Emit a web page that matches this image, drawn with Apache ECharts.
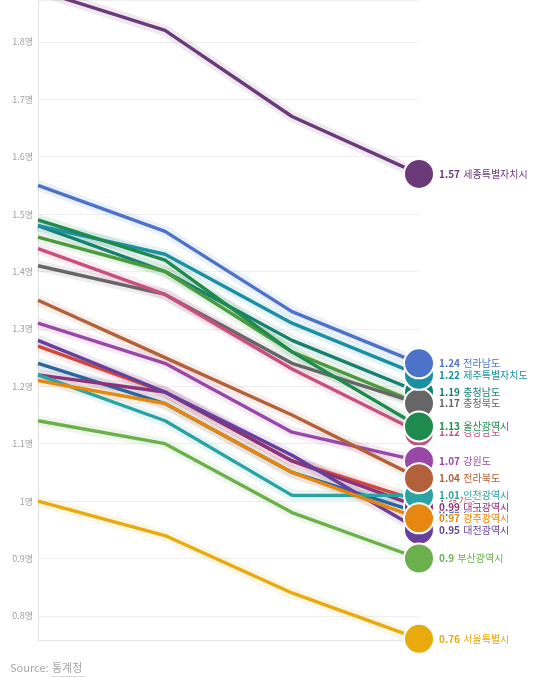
<!DOCTYPE html>
<html>
<head>
<meta charset="utf-8">
<script src="https://cdn.jsdelivr.net/npm/echarts@6/dist/echarts.min.js"></script>
<style>
html,body{margin:0;padding:0;background:#fff;}
#c{width:560px;height:677px;}
</style>
</head>
<body>
<div id="c"></div>
<script>
// Categories (years)
const years = ['2015', '2016', '2017', '2018'];

// Series values (total fertility rate, persons)
const chungnam = [1.48, 1.40, 1.28, 1.19];
const gyeongbuk = [1.46, 1.40, 1.26, 1.17];
const chungbuk = [1.41, 1.36, 1.24, 1.17];
const jeju = [1.48, 1.43, 1.31, 1.22];
const jeonnam = [1.55, 1.47, 1.33, 1.24];
const gyeongnam = [1.44, 1.36, 1.23, 1.12];
const ulsan = [1.49, 1.42, 1.26, 1.13];
const gangwon = [1.31, 1.24, 1.12, 1.07];
const national = [1.24, 1.17, 1.05, 0.98];
const gyeonggi = [1.27, 1.19, 1.07, 1.00];
const daegu = [1.22, 1.19, 1.07, 0.99];
const daejeon = [1.28, 1.19, 1.08, 0.95];
const incheon = [1.22, 1.14, 1.01, 1.01];
const jeonbuk = [1.35, 1.25, 1.15, 1.04];
const gwangju = [1.21, 1.17, 1.05, 0.97];
const busan = [1.14, 1.10, 0.98, 0.90];
const seoul = [1.00, 0.94, 0.84, 0.76];
const sejong = [1.89, 1.82, 1.67, 1.57];

// Region names (drawing order, bottom to top)
const regionNames = ['충청남도', '경상북도', '충청북도', '제주특별자치도', '전라남도', '경상남도', '울산광역시', '강원도', '전국', '경기도', '대구광역시', '대전광역시', '인천광역시', '전라북도', '광주광역시', '부산광역시', '서울특별시', '세종특별자치시'];
const regionValues = [chungnam, gyeongbuk, chungbuk, jeju, jeonnam, gyeongnam, ulsan, gangwon, national, gyeonggi, daegu, daejeon, incheon, jeonbuk, gwangju, busan, seoul, sejong];

// Y-axis tick labels
const yTicks = [0.8, 0.9, 1.0, 1.1, 1.2, 1.3, 1.4, 1.5, 1.6, 1.7, 1.8];

// Styles
const palette = ['#17806e', '#4b9a3e', '#666666', '#1d8fa5', '#4d73c9', '#c8507e', '#1f8a4d', '#9a48a8', '#2b679c', '#d04a3c', '#8a347c', '#673f9c', '#2aa3a3', '#b2613a', '#e8870f', '#6cb04c', '#e8aa0c', '#6b3b79'];

const FONT = '"Noto Sans CJK KR", "Noto Sans", sans-serif';

// Glow bands (drawn beneath all lines)
const halos = regionNames.map((name, i) => ({
  name: name + '_halo',
  type: 'line',
  data: regionValues[i],
  z: 1,
  clip: true,
  silent: true,
  showSymbol: false,
  symbol: 'none',
  lineStyle: { color: palette[i], width: 11, opacity: 0.11, cap: 'butt', join: 'round' },
  emphasis: { disabled: true }
}));

const series = regionNames.map((name, i) => {
  const color = palette[i];
  const data = regionValues[i];
  const last = data[data.length - 1];
  return {
    name: name,
    type: 'line',
    data: data,
    z: 3 + i,
    clip: true,
    silent: true,
    showSymbol: true,
    symbol: 'circle',
    symbolSize: (v, p) => (p.dataIndex === data.length - 1 ? 30 : 0),
    color: color,
    itemStyle: { color: color, borderColor: '#fff', borderWidth: 2 },
    lineStyle: { color: color, width: 3.4, join: 'round' },
    emphasis: { disabled: true },
    endLabel: {
      show: true,
      distance: 20,
      formatter: () => `{v|${last}} {n|${name}}`,
      textBorderColor: '#fff',
      textBorderWidth: 2,
      rich: {
        v: { fontFamily: FONT, fontSize: 10, fontWeight: 'bold', color: color },
        n: { fontFamily: FONT, fontSize: 10, color: color }
      }
    }
  };
});

const chart = echarts.init(document.getElementById('c'), null, { renderer: 'canvas' });
chart.setOption({
  animation: false,
  backgroundColor: '#fff',
  grid: { left: 38, right: 141, top: 0, bottom: 37, containLabel: false },
  xAxis: {
    type: 'category',
    data: years,
    boundaryGap: false,
    axisLine: { show: true, lineStyle: { color: '#e6e6e6', width: 1 } },
    axisTick: { show: false },
    axisLabel: { show: false },
    splitLine: { show: false }
  },
  yAxis: {
    type: 'value',
    min: 0.758,
    max: 1.873,
    splitNumber: 11,
    axisLine: { show: true, lineStyle: { color: '#e3e3e3', width: 1 } },
    axisTick: { show: false },
    splitLine: { show: true, lineStyle: { color: '#efefef', width: 1 } },
    axisLabel: {
      color: '#a0a0a0',
      fontSize: 9,
      fontFamily: FONT,
      margin: 5,
      showMinLabel: true,
      showMaxLabel: true,
      formatter: (v) => {
        const t = yTicks.find(x => Math.abs(x - v) < 1e-6);
        return t === undefined ? '' : `${+t.toFixed(1)}명`;
      }
    }
  },
  graphic: [
    {
      type: 'text', left: 10, top: 662,
      style: { text: 'Source:', fill: '#a6a6a6', fontSize: 11, fontFamily: FONT }
    },
    {
      type: 'text', left: 52, top: 662,
      style: { text: '통계청', fill: '#a6a6a6', fontSize: 11, fontFamily: FONT }
    },
    {
      type: 'line', shape: { x1: 52, y1: 677, x2: 85, y2: 677 },
      style: { stroke: '#b5b5b5', lineWidth: 1 }
    }
  ],
  series: halos.concat(series)
});
</script>
</body>
</html>
